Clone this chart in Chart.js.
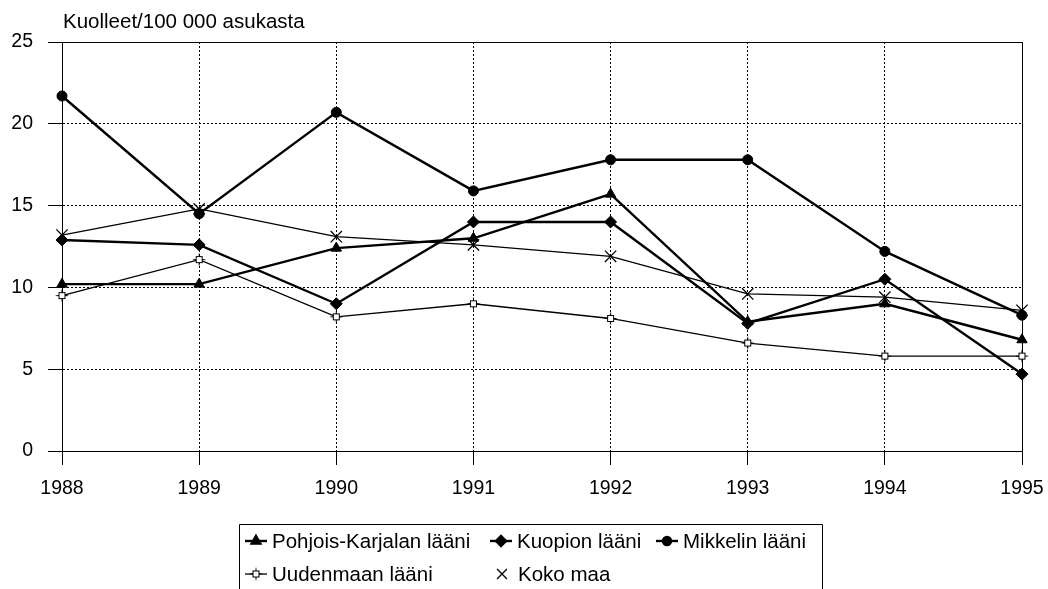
<!DOCTYPE html>
<html>
<head>
<meta charset="utf-8">
<script src="https://cdn.jsdelivr.net/npm/chart.js@4/dist/chart.umd.min.js"></script>
<style>
  html, body { margin: 0; padding: 0; background: #fff; }
  canvas { display: block; }
</style>
</head>
<body>
<canvas id="c" width="1048" height="589"></canvas>
<script>
// Kuolleet / 100 000 asukasta, 1988–1995
const years = ['1988', '1989', '1990', '1991', '1992', '1993', '1994', '1995'];
const pohjoisKarjala = [10.2, 10.2, 12.4, 13.0, 15.7, 7.9, 9.0, 6.8];
const kuopio = [12.9, 12.6, 9.0, 14.0, 14.0, 7.8, 10.5, 4.7];
const mikkeli = [21.7, 14.5, 20.7, 15.9, 17.8, 17.8, 12.2, 8.3];
const uusimaa = [9.5, 11.7, 8.2, 9.0, 8.1, 6.6, 5.8, 5.8];
const kokoMaa = [13.2, 14.8, 13.1, 12.6, 11.9, 9.6, 9.4, 8.6];
const seriesNames = ['Pohjois-Karjalan lääni', 'Kuopion lääni', 'Mikkelin lääni', 'Uudenmaan lääni', 'Koko maa'];
const yTitle = 'Kuolleet/100 000 asukasta';

const FONT = '"Liberation Sans", Arial, Helvetica, sans-serif';

// Open square marker with small spurs for Uudenmaan lääni
function makeSquareMarker() {
  const s = 15, c = document.createElement('canvas');
  c.width = s; c.height = s;
  const g = c.getContext('2d');
  g.strokeStyle = '#000'; g.lineWidth = 1; g.fillStyle = '#fff';
  g.fillRect(4.5, 4.5, 6, 6);
  g.strokeRect(4.5, 4.5, 6, 6);
  g.beginPath();
  g.moveTo(7.5, 1.5); g.lineTo(7.5, 4.5);
  g.moveTo(7.5, 10.5); g.lineTo(7.5, 13.5);
  g.moveTo(1.5, 7.5); g.lineTo(4.5, 7.5);
  g.moveTo(10.5, 7.5); g.lineTo(13.5, 7.5);
  g.stroke();
  return c;
}
const squareMarker = makeSquareMarker();

const styles = [
  { pointStyle: 'triangle', radius: 6, width: 2.4 },
  { pointStyle: 'rectRot', radius: 6, width: 2.4 },
  { pointStyle: 'circle', radius: 5, width: 2.4 },
  { pointStyle: squareMarker, radius: 7, width: 1.3 },
  { pointStyle: 'crossRot', radius: 8, width: 1.3 }
];
const seriesData = [pohjoisKarjala, kuopio, mikkeli, uusimaa, kokoMaa];

const datasets = seriesData.map((d, i) => ({
  label: seriesNames[i],
  data: d,
  borderColor: '#000',
  backgroundColor: '#000',
  pointBackgroundColor: '#000',
  pointBorderColor: '#000',
  borderWidth: styles[i].width,
  pointBorderWidth: i >= 3 ? 1.3 : 1,
  pointStyle: styles[i].pointStyle,
  pointRadius: styles[i].radius,
  tension: 0,
  fill: false
}));

// Solid frame around the plot area
const framePlugin = {
  id: 'frame',
  beforeDatasetsDraw(chart) {
    const { ctx, chartArea: a } = chart;
    ctx.save();
    ctx.strokeStyle = '#000';
    ctx.lineWidth = 1;
    ctx.setLineDash([]);
    ctx.strokeRect(Math.round(a.left) + 0.5, Math.round(a.top) + 0.5,
                   Math.round(a.right - a.left), Math.round(a.bottom - a.top));
    ctx.restore();
  }
};

// Axis title above the plot and boxed legend below the axis labels
const textPlugin = {
  id: 'texts',
  afterDraw(chart) {
    const ctx = chart.ctx;
    ctx.save();
    ctx.fillStyle = '#000';
    ctx.font = '20.5px ' + FONT;
    ctx.textBaseline = 'alphabetic';
    ctx.textAlign = 'left';
    ctx.fillText(yTitle, 63, 28);

    // legend box (open at the bottom edge of the page)
    ctx.strokeStyle = '#000';
    ctx.lineWidth = 1;
    ctx.beginPath();
    ctx.moveTo(239.5, 600); ctx.lineTo(239.5, 524.5);
    ctx.lineTo(822.5, 524.5); ctx.lineTo(822.5, 600);
    ctx.stroke();

    const items = [
      { i: 0, x: 245, y: 541 },
      { i: 1, x: 490, y: 541 },
      { i: 2, x: 656, y: 541 },
      { i: 3, x: 245, y: 574 },
      { i: 4, x: 491, y: 574 }
    ];
    ctx.font = '20.5px ' + FONT;
    ctx.textBaseline = 'middle';
    items.forEach(it => {
      const ds = datasets[it.i];
      if (it.i !== 4) {
        ctx.lineWidth = ds.borderWidth;
        ctx.beginPath();
        ctx.moveTo(it.x, it.y); ctx.lineTo(it.x + 22, it.y);
        ctx.stroke();
      }
      ctx.fillStyle = '#000';
      ctx.strokeStyle = '#000';
      Chart.helpers.drawPoint(ctx, {
        pointStyle: ds.pointStyle,
        radius: it.i >= 3 ? 7 : ds.pointRadius - 1,
        borderWidth: ds.pointBorderWidth,
        rotation: 0
      }, it.x + 11, it.y);
      ctx.fillStyle = '#000';
      ctx.fillText(seriesNames[it.i], it.x + 27, it.y + 1);
    });
    ctx.restore();
  }
};

new Chart(document.getElementById('c'), {
  type: 'line',
  data: { labels: years, datasets },
  options: {
    responsive: false,
    animation: false,
    devicePixelRatio: 1,
    layout: { padding: { left: 0, right: 26, top: 42, bottom: 0 } },
    plugins: {
      legend: { display: false },
      tooltip: { enabled: false },
      title: { display: false }
    },
    scales: {
      x: {
        type: 'category',
        offset: false,
        afterFit(scale) {
          scale.height = 138;
          scale.paddingRight = 26;
        },
        grid: {
          offset: false,
          color: '#000',
          lineWidth: 1,
          drawTicks: true,
          tickLength: 14,
          tickColor: '#000',
          tickBorderDash: []
        },
        border: { display: true, color: '#000', width: 1, dash: [2, 2] },
        ticks: {
          color: '#000',
          font: { family: FONT, size: 19.5 },
          padding: 12,
          maxRotation: 0,
          autoSkip: false
        }
      },
      y: {
        min: 0,
        max: 25,
        afterFit(scale) { scale.width = 62; },
        grid: {
          color: '#000',
          lineWidth: 1,
          drawTicks: true,
          tickLength: 14,
          tickColor: '#000',
          tickBorderDash: []
        },
        border: { display: true, color: '#000', width: 1, dash: [2, 2] },
        ticks: {
          stepSize: 5,
          color: '#000',
          font: { family: FONT, size: 19.5 },
          padding: 15
        }
      }
    }
  },
  plugins: [framePlugin, textPlugin]
});
</script>
</body>
</html>
